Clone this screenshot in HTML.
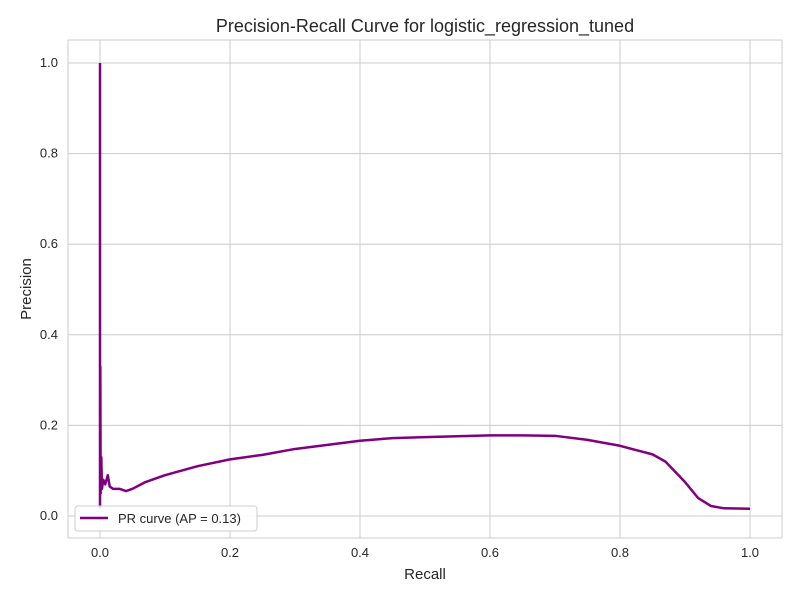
<!DOCTYPE html>
<html><head><meta charset="utf-8"><style>
body{margin:0;background:#fff;font-family:"Liberation Sans",sans-serif}
svg text{font-family:"Liberation Sans",sans-serif;fill:#262626}
</style></head><body>
<svg id="chart" width="800" height="600">
<text x="425" y="32" font-size="18" text-anchor="middle">Precision-Recall Curve for logistic_regression_tuned</text>
<rect x="68" y="40" width="714" height="498" fill="#fff" stroke="#ccc"/>
<g id="grid"></g><g id="ticks"></g>
<text x="425" y="579" font-size="15" text-anchor="middle">Recall</text>
<text x="31" y="289" font-size="15" text-anchor="middle" transform="rotate(-90 31 289)">Precision</text>
<path id="curve" fill="none" stroke="#800080" stroke-width="2.5" stroke-linejoin="round"/>
<g>
<rect x="75" y="506" width="182" height="25" rx="3" fill="#fff" fill-opacity="0.85" stroke="#ccc"/>
<line x1="80" y1="518" x2="108" y2="518" stroke="#800080" stroke-width="2.5"/>
<text x="118" y="523" font-size="13">PR curve (AP = 0.13)</text>
</g>
</svg>
<script>
const xTicks=[0,0.2,0.4,0.6,0.8,1.0];
const yTicks=[0,0.2,0.4,0.6,0.8,1.0];
const recall=[0,0,0.0005,0.001,0.002,0.003,0.005,0.008,0.012,0.015,0.02,0.03,0.04,0.05,0.07,0.1,0.15,0.2,0.25,0.3,0.35,0.4,0.45,0.5,0.55,0.6,0.65,0.7,0.75,0.8,0.85,0.87,0.9,0.92,0.94,0.96,1.0];
const precision=[1.0,0.02,0.33,0.05,0.13,0.06,0.08,0.07,0.09,0.065,0.06,0.06,0.055,0.06,0.075,0.09,0.11,0.125,0.135,0.148,0.157,0.166,0.172,0.174,0.176,0.178,0.178,0.177,0.168,0.155,0.136,0.12,0.075,0.04,0.022,0.017,0.016];
const X=v=>100+v*650, Y=v=>516-v*453;
const ns="http://www.w3.org/2000/svg";
const grid=document.getElementById('grid'), ticks=document.getElementById('ticks');
xTicks.forEach(t=>{
 const l=document.createElementNS(ns,'line');
 l.setAttribute('x1',X(t));l.setAttribute('x2',X(t));l.setAttribute('y1',40);l.setAttribute('y2',538);l.setAttribute('stroke','#ccc');
 
 
 grid.appendChild(l);
 const tx=document.createElementNS(ns,'text');
 tx.setAttribute('x',X(t));tx.setAttribute('y',557);tx.setAttribute('font-size','13');tx.setAttribute('text-anchor','middle');
 tx.textContent=t.toFixed(1);
 
 
 ticks.appendChild(tx);
});
yTicks.forEach(t=>{
 const l=document.createElementNS(ns,'line');
 l.setAttribute('x1',68);l.setAttribute('x2',782);l.setAttribute('y1',Y(t));l.setAttribute('y2',Y(t));l.setAttribute('stroke','#ccc');
 
 
 grid.appendChild(l);
 const tx=document.createElementNS(ns,'text');
 tx.setAttribute('x',58);tx.setAttribute('y',Y(t)+4);tx.setAttribute('font-size','13');tx.setAttribute('text-anchor','end');
 tx.textContent=t.toFixed(1);
 
 
 ticks.appendChild(tx);
});
document.getElementById('curve').setAttribute('d',recall.map((r,i)=>(i?'L':'M')+X(r)+' '+Y(precision[i])).join(' '));
</script>
</body></html>
